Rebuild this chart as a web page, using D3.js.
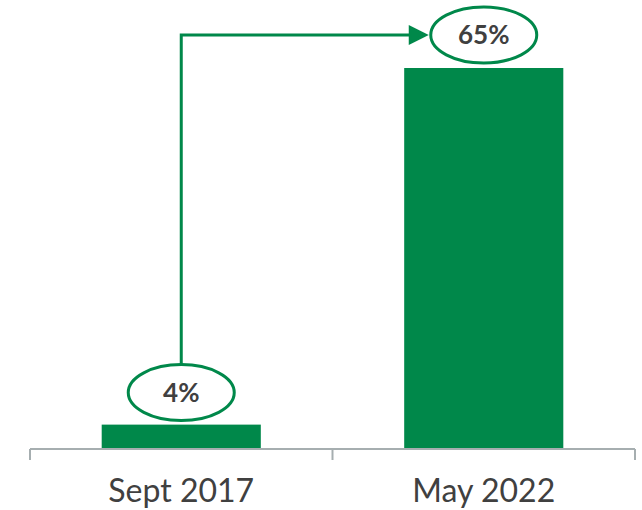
<!DOCTYPE html>
<html>
<head>
<meta charset="utf-8">
<script src="https://cdn.jsdelivr.net/npm/d3@7"></script>
<style>
  body { margin: 0; background: #fff; }
  svg { display: block; }
</style>
</head>
<body>
<div id="chart"></div>
<script>
// data
const categories = ["Sept 2017", "May 2022"];
const values = [4, 65];
const valueLabels = ["4%", "65%"];

const width = 642, height = 510;
const green = "#00884a";
const axisColor = "#a6aeb0";
const baseY = 448;

const svg = d3.select("#chart").append("svg")
    .attr("width", width)
    .attr("height", height);

const x = d3.scaleBand()
    .domain(categories)
    .range([30, 635])
    .paddingInner(0.474)
    .paddingOuter(0.237);

const y = d3.scaleLinear()
    .domain([0, 65])
    .range([baseY, 68]);

// bars
svg.selectAll(".bar")
    .data(values)
    .enter().append("rect")
    .attr("class", "bar")
    .attr("x", (d, i) => x(categories[i]))
    .attr("y", d => y(d))
    .attr("width", x.bandwidth())
    .attr("height", d => baseY - y(d))
    .attr("fill", green);

// axis line with category boundary ticks
const axis = svg.append("g").attr("stroke", axisColor).attr("stroke-width", 2);
axis.append("line")
    .attr("x1", 30).attr("x2", 635)
    .attr("y1", baseY + 1).attr("y2", baseY + 1);
const step = x.step();
const bounds = [30, 30 + step, 635];
axis.selectAll(".tick")
    .data(bounds)
    .enter().append("line")
    .attr("x1", d => d).attr("x2", d => d)
    .attr("y1", baseY + 1).attr("y2", baseY + 12);

// category labels
svg.selectAll(".cat")
    .data(categories)
    .enter().append("text")
    .attr("x", d => x(d) + x.bandwidth() / 2)
    .attr("y", 502)
    .attr("text-anchor", "middle")
    .attr("font-family", "Lato, 'Open Sans', sans-serif")
    .attr("font-size", "32px")
    .attr("fill", "#404040")
    .text(d => d);

// value bubbles
const rx = 53, ry = 28;
const bubbleY = values.map((d, i) => i === 0 ? y(d) - ry - 4 : 35);
const cx = categories.map(c => x(c) + x.bandwidth() / 2);

// connector arrow
const startX = cx[0];
const endX = cx[1] - rx - 2;
svg.append("path")
    .attr("d", `M${startX},${bubbleY[0] - ry} V${bubbleY[1]} H${endX - 18}`)
    .attr("fill", "none")
    .attr("stroke", green)
    .attr("stroke-width", 3);
svg.append("path")
    .attr("d", `M${endX},${bubbleY[1]} L${endX - 20},${bubbleY[1] - 10} L${endX - 20},${bubbleY[1] + 10} Z`)
    .attr("fill", green);

const bubbles = svg.selectAll(".bubble")
    .data(values)
    .enter().append("g")
    .attr("class", "bubble")
    .attr("transform", (d, i) => `translate(${cx[i]},${bubbleY[i]})`);

bubbles.append("ellipse")
    .attr("rx", rx)
    .attr("ry", ry)
    .attr("fill", "#fff")
    .attr("stroke", green)
    .attr("stroke-width", 3);

bubbles.append("text")
    .attr("text-anchor", "middle")
    .attr("dy", "0.36em")
    .attr("font-family", "Lato, 'Open Sans', sans-serif")
    .attr("font-weight", "bold")
    .attr("font-size", "26px")
    .attr("fill", "#404040")
    .text((d, i) => valueLabels[i]);
</script>
</body>
</html>
